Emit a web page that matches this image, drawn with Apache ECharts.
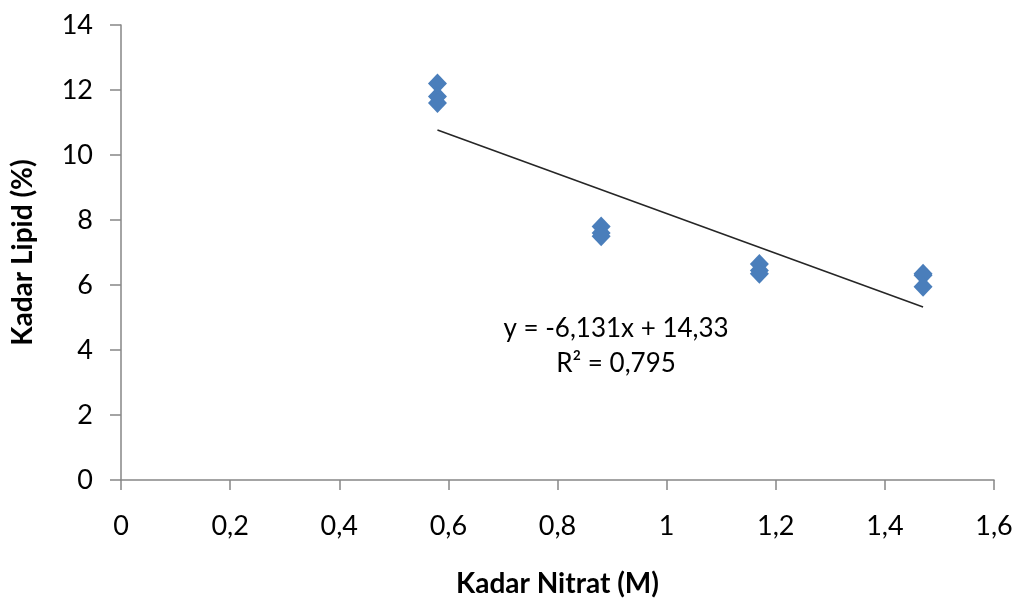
<!DOCTYPE html>
<html>
<head>
<meta charset="utf-8">
<script src="https://cdn.jsdelivr.net/npm/echarts@6/dist/echarts.min.js"></script>
<style>html,body{margin:0;padding:0;background:#fff}#c{width:1017px;height:600px}</style>
</head>
<body>
<div id="c"></div>
<script>
// Data
const nitrat = [0.58, 0.58, 0.58, 0.88, 0.88, 0.88, 1.17, 1.17, 1.17, 1.47, 1.47, 1.47];
const lipid  = [12.2, 11.8, 11.6, 7.8, 7.6, 7.5, 6.65, 6.45, 6.35, 6.35, 6.3, 5.95];
const trendX = [0.58, 1.47];
const trendY = [10.77, 5.32];
const equationText = ['y = -6,131x + 14,33', 'R² = 0,795'];
const xTitle = 'Kadar Nitrat (M)';
const yTitle = 'Kadar Lipid (%)';

const FONT = 'Lato';
const fmt = v => String(+(+v).toFixed(1)).replace('.', ',');
const chart = echarts.init(document.getElementById('c'));
chart.setOption({
  animation: false,
  backgroundColor: '#fff',
  grid: {left: 121, right: 23, top: 25, bottom: 120, containLabel: false, outerBoundsMode: 'none'},
  xAxis: {
    type: 'value', min: 0, max: 1.6, interval: 0.2,
    name: xTitle, nameLocation: 'middle', nameGap: 90,
    nameTextStyle: {fontFamily: FONT, fontWeight: 'bold', fontSize: 28, color: '#000'},
    axisLine: {show: true, onZero: false, lineStyle: {color: '#868686', width: 1.5}},
    axisTick: {show: true, length: 10, lineStyle: {color: '#868686', width: 1.5}},
    axisLabel: {fontFamily: FONT, fontSize: 27, color: '#000', margin: 33, formatter: fmt},
    splitLine: {show: false}
  },
  yAxis: {
    type: 'value', min: 0, max: 14, interval: 2,
    name: yTitle, nameLocation: 'middle', nameGap: 84,
    nameTextStyle: {fontFamily: FONT, fontWeight: 'bold', fontSize: 28, color: '#000'},
    axisLine: {show: true, onZero: false, lineStyle: {color: '#868686', width: 1.5}},
    axisTick: {show: true, length: 11, lineStyle: {color: '#868686', width: 1.5}},
    axisLabel: {fontFamily: FONT, fontSize: 27, color: '#000', margin: 28, formatter: fmt},
    splitLine: {show: false}
  },
  series: [
    {
      type: 'scatter',
      data: nitrat.map((x, i) => [x, lipid[i]]),
      symbol: 'diamond', symbolSize: [19, 20],
      itemStyle: {color: '#4A7EBB', opacity: 1},
      z: 3
    },
    {
      type: 'line',
      data: trendX.map((x, i) => [x, trendY[i]]),
      symbol: 'none',
      lineStyle: {color: '#262626', width: 1.6},
      z: 2
    }
  ],
  graphic: [
    {
      type: 'text', x: 616, y: 311,
      style: {text: equationText.join('\n'), fontFamily: FONT, fontSize: 26, fill: '#000',
              align: 'center', verticalAlign: 'top', lineHeight: 35}
    }
  ]
});
</script>
</body>
</html>
